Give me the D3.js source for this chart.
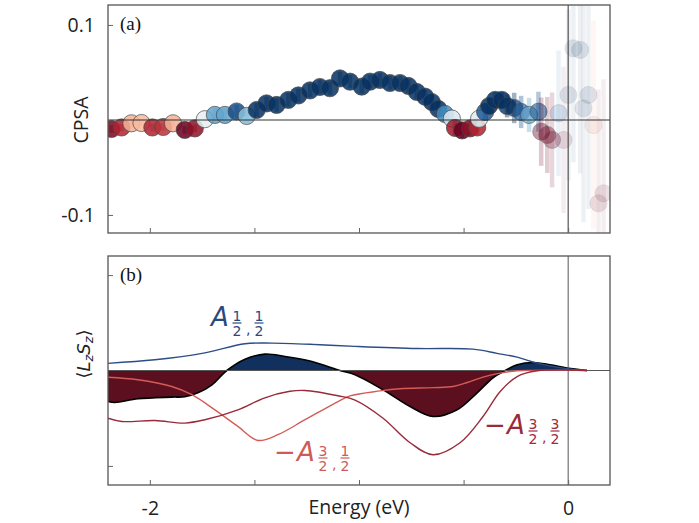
<!DOCTYPE html>
<html><head><meta charset="utf-8">
<script src="https://cdn.jsdelivr.net/npm/d3@7"></script>
<style>body{margin:0;background:#fff} svg{display:block}</style>
</head><body>
<svg id="c" width="699" height="523"></svg>
<script>
// ---------------- data ----------------
const cpsaEnergy = [-2.183,-2.135,-2.088,-2.040,-1.988,-1.936,-1.889,-1.833,-1.785,-1.737,-1.689,-1.641,-1.585,-1.537,-1.489,-1.442,-1.394,-1.338,-1.290,-1.234,-1.187,-1.139,-1.091,-1.043,-0.987,-0.947,-0.900,-0.852,-0.804,-0.764,-0.724,-0.684,-0.652,-0.621,-0.589,-0.556,-0.541,-0.507,-0.469,-0.435,-0.426,-0.397,-0.378,-0.349,-0.317,-0.292,-0.258,-0.225,-0.187,-0.142,-0.129,-0.100,-0.077,-0.046,-0.022,0.001,0.025,0.057,0.073,0.097,0.121,0.145,0.169];
const cpsaValue = [-0.0095,-0.0079,-0.0035,-0.0032,-0.0079,-0.0074,-0.0035,-0.0105,-0.0089,0.0008,0.0053,0.0053,0.0089,0.0042,0.0105,0.0174,0.0158,0.0211,0.0258,0.0311,0.0347,0.0334,0.0437,0.0403,0.0351,0.0403,0.0421,0.0389,0.0389,0.0358,0.0295,0.0245,0.0189,0.0116,0.0063,0.0015,-0.0084,-0.0110,-0.0089,-0.0079,0.0012,0.0084,0.0147,0.0211,0.0211,0.0147,0.0126,0.0084,0.0053,0.0087,-0.0123,-0.0158,-0.0210,0.0071,-0.0210,0.0263,0.0755,0.0737,0.0123,0.0263,-0.0053,-0.0877,-0.0772];
const cpsaError = [0.004,0.004,0.004,0.004,0.004,0.004,0.004,0.004,0.004,0.007,0.007,0.007,0.007,0.007,0.007,0.007,0.007,0.007,0.007,0.007,0.007,0.007,0.007,0.007,0.007,0.007,0.007,0.007,0.007,0.007,0.007,0.007,0.007,0.008,0.008,0.008,0.008,0.008,0.008,0.008,0.008,0.008,0.008,0.008,0.008,0.012,0.016,0.017,0.018,0.021,0.036,0.040,0.050,0.066,0.077,0.090,0.120,0.130,0.120,0.120,0.110,0.120,0.120];

const a11Energy = [-2.2,-1.976,-1.737,-1.545,-1.416,-1.187,-1.019,-0.722,-0.455,-0.340,-0.244,-0.148,-0.024,0.09];
const a11Value  = [0.075,0.112,0.185,0.280,0.287,0.270,0.253,0.230,0.224,0.180,0.140,0.077,0.025,0.0];

const a31Energy = [-2.2,-2.057,-1.895,-1.799,-1.689,-1.579,-1.483,-1.388,-1.258,-1.100,-1.043,-0.900,-0.804,-0.646,-0.550,-0.483,-0.407,-0.325,-0.244,0.09];
const a31Value  = [-0.07,-0.097,-0.168,-0.254,-0.412,-0.586,-0.733,-0.673,-0.516,-0.325,-0.266,-0.214,-0.191,-0.180,-0.168,-0.126,-0.069,-0.027,-0.003,0];

const a33Energy = [-2.2,-2.134,-1.976,-1.833,-1.737,-1.579,-1.450,-1.330,-1.258,-1.100,-1.019,-0.885,-0.756,-0.646,-0.517,-0.407,-0.325,-0.244,-0.148,0.09];
const a33Value  = [-0.50,-0.534,-0.524,-0.551,-0.516,-0.412,-0.286,-0.218,-0.209,-0.265,-0.31,-0.50,-0.757,-0.883,-0.757,-0.482,-0.22,-0.063,-0.003,0];

const sumEnergy = [-2.2,-2.167,-2.057,-1.895,-1.833,-1.770,-1.703,-1.632,-1.545,-1.450,-1.354,-1.225,-1.091,-1.019,-0.885,-0.756,-0.646,-0.531,-0.435,-0.359,-0.301,-0.244,-0.167,-0.086,-0.005,0.09];
const sumValue  = [-0.325,-0.335,-0.296,-0.279,-0.275,-0.234,-0.15,0,0.119,0.172,0.147,0.094,0,-0.045,-0.202,-0.377,-0.482,-0.412,-0.234,-0.076,0,0.06,0.084,0.06,0.025,0];

const xTicks = [-2,-1.5,-1,-0.5,0];
const xTickLabels = {"-2":"-2","0":"0"};
const yTopTicks = [-0.1,0.1];
const yTopTickLabels = ["-0.1","0.1"];
const yBotTicks = [-1,1];

// ---------------- layout ----------------
const svg = d3.select("#c");
const L = 108, R = 610;
const topA = {t:5, b:233}, botA = {t:256, b:485};
const SANS = "'Open Sans', 'Noto Sans', sans-serif";
const FS = "19.5px";

const x = d3.scaleLinear().domain([-2.2,0.2]).range([L,R]);
const yTop = d3.scaleLinear().domain([-0.119,0.121]).range([topA.b, topA.t]);
const yBot = d3.scaleLinear().domain([-1.2,1.2]).range([botA.b, botA.t]);
const color = d3.scaleDiverging(d3.interpolateRdBu).domain([-0.01,0,0.01]).clamp(true);
const alpha = d3.scaleLog().domain([0.01,0.08]).range([0.85,0.12]).clamp(true);

const defs = svg.append("defs");
defs.append("clipPath").attr("id","clipTop").append("rect").attr("x",L).attr("y",topA.t).attr("width",R-L).attr("height",topA.b-topA.t);
defs.append("clipPath").attr("id","clipBot").append("rect").attr("x",L).attr("y",botA.t).attr("width",R-L).attr("height",botA.b-botA.t);
defs.append("clipPath").attr("id","clipPos").append("rect").attr("x",L).attr("y",botA.t).attr("width",R-L).attr("height",yBot(0)-botA.t);
defs.append("clipPath").attr("id","clipNeg").append("rect").attr("x",L).attr("y",yBot(0)).attr("width",R-L).attr("height",botA.b-yBot(0));

// ---------------- panel (a) ----------------
const gA = svg.append("g").attr("clip-path","url(#clipTop)");
cpsaEnergy.forEach((e,i)=>{
  const v = cpsaValue[i], er = cpsaError[i], c = color(v), a = alpha(er);
  gA.append("line").attr("x1",x(e)).attr("x2",x(e))
    .attr("y1",yTop(v-er)).attr("y2",yTop(v+er))
    .attr("stroke",c).attr("stroke-opacity",a*0.55).attr("stroke-width",4.5);
  gA.append("circle").attr("cx",x(e)).attr("cy",yTop(v)).attr("r",8.6)
    .attr("fill",c).attr("fill-opacity",a)
    .attr("stroke","#444").attr("stroke-opacity",a*0.9).attr("stroke-width",0.9);
});
gA.append("line").attr("x1",L).attr("x2",R).attr("y1",yTop(0)).attr("y2",yTop(0)).attr("stroke","#333").attr("stroke-width",1.1);
gA.append("line").attr("x1",x(0)).attr("x2",x(0)).attr("y1",topA.t).attr("y2",topA.b).attr("stroke","#444").attr("stroke-width",1.1);

// ---------------- panel (b) ----------------
const gB = svg.append("g").attr("clip-path","url(#clipBot)");
const sumPts = sumEnergy.map((e,i)=>[e,sumValue[i]]);
const area = d3.area().x(d=>x(d[0])).y0(yBot(0)).y1(d=>yBot(d[1])).curve(d3.curveCatmullRom);
const lineB = d3.line().x(d=>x(d[0])).y(d=>yBot(d[1])).curve(d3.curveCatmullRom);
gB.append("g").attr("clip-path","url(#clipPos)").append("path").datum(sumPts).attr("d",area).attr("fill","#12305e");
gB.append("g").attr("clip-path","url(#clipNeg)").append("path").datum(sumPts).attr("d",area).attr("fill","#5c101f");
gB.append("path").datum(sumPts).attr("d",lineB).attr("fill","none").attr("stroke","#000").attr("stroke-width",1.6);
gB.append("line").attr("x1",L).attr("x2",R).attr("y1",yBot(0)).attr("y2",yBot(0)).attr("stroke","#555").attr("stroke-width",1);
gB.append("line").attr("x1",x(0)).attr("x2",x(0)).attr("y1",botA.t).attr("y2",botA.b).attr("stroke","#555").attr("stroke-width",1);
const curves = [
  {E:a11Energy, V:a11Value, c:"#2c4e86"},
  {E:a31Energy, V:a31Value, c:"#d25c57"},
  {E:a33Energy, V:a33Value, c:"#982a3a"}
];
curves.forEach(cv=>{
  gB.append("path").datum(cv.E.map((e,i)=>[e,cv.V[i]])).attr("d",lineB)
    .attr("fill","none").attr("stroke",cv.c).attr("stroke-width",1.4);
});

// ---------------- frames & axes ----------------
[topA, botA].forEach(p=>{
  svg.append("rect").attr("x",L).attr("y",p.t).attr("width",R-L).attr("height",p.b-p.t)
    .attr("fill","none").attr("stroke","#555").attr("stroke-width",1.3);
});
function styleAxis(g){
  g.select(".domain").remove();
  g.selectAll(".tick line").attr("stroke","#666").attr("stroke-width",1);
  g.selectAll(".tick text").attr("fill","#222").style("font-family",SANS).style("font-size",FS);
}
svg.append("g").attr("transform",`translate(0,${topA.b})`)
  .call(d3.axisBottom(x).tickValues(xTicks).tickSizeInner(-5).tickSizeOuter(0).tickFormat(()=>""))
  .call(styleAxis);
svg.append("g").attr("transform",`translate(0,${botA.b})`)
  .call(d3.axisBottom(x).tickValues(xTicks).tickSizeInner(-5).tickSizeOuter(0).tickPadding(16)
    .tickFormat(d=>xTickLabels[String(d)]||""))
  .call(styleAxis);
svg.append("g").attr("transform",`translate(${L},0)`)
  .call(d3.axisLeft(yTop).tickValues(yTopTicks).tickSizeInner(-5).tickSizeOuter(0).tickPadding(13)
    .tickFormat((d,i)=>yTopTickLabels[i]))
  .call(styleAxis);
svg.append("g").attr("transform",`translate(${L},0)`)
  .call(d3.axisLeft(yBot).tickValues(yBotTicks).tickSizeInner(-5).tickSizeOuter(0).tickFormat(()=>""))
  .call(styleAxis);

// axis titles
svg.append("text").attr("x",359).attr("y",514).attr("text-anchor","middle")
  .style("font-family",SANS).style("font-size",FS).attr("fill","#222").text("Energy (eV)");
svg.append("text").attr("transform","translate(88,120) rotate(-90)").attr("text-anchor","middle")
  .style("font-family",SANS).style("font-size",FS).attr("fill","#222").text("CPSA");
const yl = svg.append("text").attr("transform","translate(90,354) rotate(-90)").attr("text-anchor","middle")
  .style("font-family","'DejaVu Sans', sans-serif").style("font-size","18px").attr("fill","#222");
yl.append("tspan").text("⟨");
yl.append("tspan").style("font-style","italic").text("L");
yl.append("tspan").style("font-style","italic").style("font-size","13px").attr("dy",3).text("z");
yl.append("tspan").style("font-style","italic").attr("dy",-3).text("S");
yl.append("tspan").style("font-style","italic").style("font-size","13px").attr("dy",3).text("z");
yl.append("tspan").attr("dy",-3).text("⟩");

// panel letters
const SERIF = "'Liberation Serif','Times New Roman',serif";
svg.append("text").attr("x",120).attr("y",30).style("font-family",SERIF).style("font-size","19px").attr("fill","#111").text("(a)");
svg.append("text").attr("x",120).attr("y",281).style("font-family",SERIF).style("font-size","19px").attr("fill","#111").text("(b)");

// curve labels
function frac(g, cx, by, num, den, col){
  g.append("text").attr("x",cx).attr("y",by-2.5).attr("text-anchor","middle").style("font-size","14px").text(num);
  g.append("line").attr("x1",cx-4.5).attr("x2",cx+4.5).attr("y1",by).attr("y2",by).attr("stroke",col).attr("stroke-width",1.2);
  g.append("text").attr("x",cx).attr("y",by+12.5).attr("text-anchor","middle").style("font-size","14px").text(den);
}
function aLabel(xa, yb, col, minus, n1, n2){
  const g = svg.append("g").attr("fill",col).style("font-family","'DejaVu Sans', sans-serif");
  if (minus) g.append("text").attr("x",xa-23).attr("y",yb).style("font-size","26px").text("−");
  g.append("text").attr("x",xa).attr("y",yb).style("font-size","26px").style("font-style","italic").text("A");
  frac(g, xa+26, yb-3, n1, "2", col);
  g.append("text").attr("x",xa+35).attr("y",yb+8).style("font-size","14px").text(",");
  frac(g, xa+48, yb-3, n2, "2", col);
}
aLabel(211, 326, "#2a4a7f", false, "1", "1");
aLabel(297, 461, "#cf5b57", true, "3", "1");
aLabel(507, 434, "#9b2b3b", true, "3", "3");
</script>
</body></html>
